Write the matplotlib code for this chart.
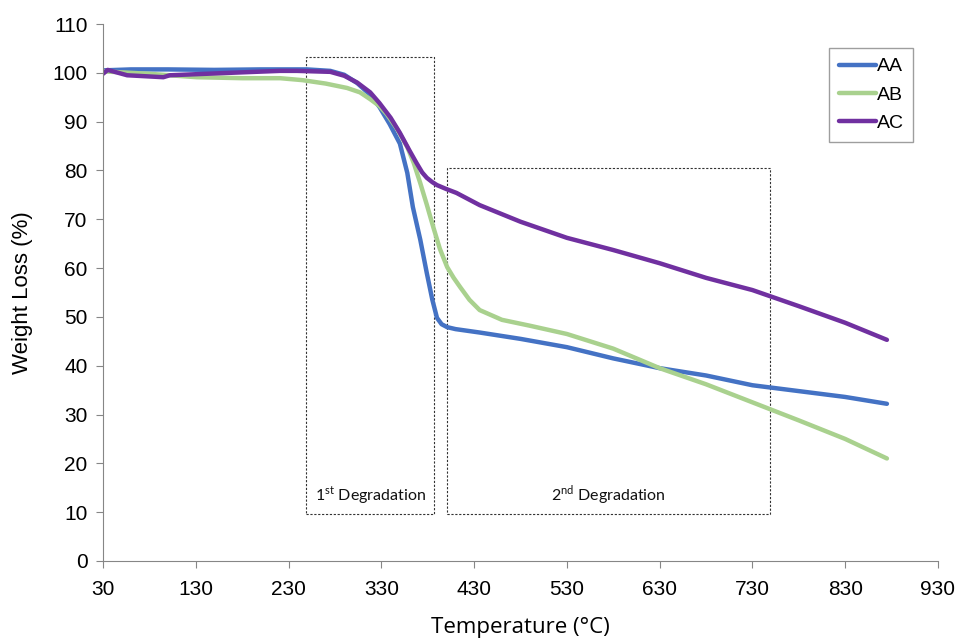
import matplotlib
matplotlib.use("Agg")
import matplotlib.pyplot as plt
import matplotlib.patches as patches

# ---> TGA data
temp_aa = [30, 60, 100, 150, 200, 250, 275, 290, 304, 318, 328, 339, 350, 358, 364, 372, 379, 385, 390, 395, 401, 410, 436, 480, 530, 580, 630, 680, 730, 780, 830, 875]
wl_aa = [100.5, 100.7, 100.7, 100.6, 100.7, 100.7, 100.4, 99.6, 97.9, 95.5, 93, 89.5, 85.5, 79.5, 72.5, 65.8, 59, 53.5, 49.8, 48.5, 47.9, 47.5, 46.8, 45.5, 43.8, 41.5, 39.5, 38, 36, 34.8, 33.6, 32.2]

temp_ab = [30, 80, 131, 180, 221, 245, 270, 293, 307, 318, 328, 336, 347, 358, 365, 372, 379, 386, 393, 401, 408, 415, 425, 436, 460, 490, 530, 580, 630, 680, 730, 780, 830, 875]
wl_ab = [100.3, 99.8, 99.1, 98.9, 98.9, 98.5, 97.8, 96.9, 96, 94.6, 93.2, 91.5, 88.5, 84.8, 81.5, 77.4, 73, 68.4, 64, 60.2, 58, 56.1, 53.5, 51.4, 49.4, 48.2, 46.5, 43.5, 39.5, 36.2, 32.5, 28.8, 25, 21]

temp_ac = [30, 35, 56, 95, 102, 167, 221, 239, 275, 290, 304, 318, 328, 340, 350, 360, 368, 374, 379, 385, 390, 400, 411, 436, 480, 530, 580, 630, 680, 730, 780, 830, 875]
wl_ac = [99.8, 100.6, 99.5, 99.1, 99.5, 100, 100.4, 100.4, 100.2, 99.4, 98, 96, 93.8, 90.8, 87.7, 84.2, 81.5, 79.6, 78.5, 77.6, 77, 76.2, 75.4, 72.9, 69.5, 66.2, 63.7, 61, 58, 55.5, 52.2, 48.8, 45.3]

series = [("AA", temp_aa, wl_aa, "#4472C4"),
          ("AB", temp_ab, wl_ab, "#A9D18E"),
          ("AC", temp_ac, wl_ac, "#7030A0")]

# degradation regions: (x0, x1, y0, y1, label)
regions = [(249, 387, 9.6, 103.2, r"1$^{\mathregular{st}}$ Degradation"),
           (401, 749, 9.6, 80.5, r"2$^{\mathregular{nd}}$ Degradation")]

fig = plt.figure(figsize=(9.61, 6.42), dpi=100)
ax = fig.add_axes([0.1072, 0.1262, 0.8688, 0.8364])

for name, t, w, c in series:
    ax.plot(t, w, color=c, linewidth=3.2, label=name,
            solid_capstyle="round", solid_joinstyle="round")

for x0, x1, y0, y1, lab in regions:
    ax.add_patch(patches.Rectangle((x0, y0), x1 - x0, y1 - y0, fill=False,
                                   edgecolor="#333333", linewidth=0.8, linestyle=(0, (2, 1.5))))
    ax.text((x0 + x1) / 2, y0 + 3.8, lab, ha="center", va="center",
            fontsize=11.5, family="Lato", color="#111111")

ax.set_xlim(30, 930)
ax.set_ylim(0, 110)
ax.set_xticks(range(30, 931, 100))
ax.set_yticks(range(0, 111, 10))
for s in ["top", "right"]:
    ax.spines[s].set_visible(False)
for s in ["left", "bottom"]:
    ax.spines[s].set_color("#868686")
ax.tick_params(direction="out", length=5, color="#868686", labelsize=15, pad=6)
for lbl in ax.get_xticklabels() + ax.get_yticklabels():
    lbl.set_family("Liberation Sans")
ax.tick_params(axis="x", pad=9)

ax.set_xlabel("Temperature (°C)", fontsize=16, family="Open Sans", labelpad=13)
ax.set_ylabel("Weight Loss (%)", fontsize=16, family="Liberation Sans", labelpad=14)

leg = ax.legend(loc="upper left", bbox_to_anchor=(829 / 961, 1 - 48 / 642),
                bbox_transform=fig.transFigure, frameon=True, fancybox=False,
                prop={"family": "Liberation Sans", "size": 14}, handlelength=1.9,
                handletextpad=0.05, labelspacing=0.55, borderpad=0.5, borderaxespad=0)
leg.get_frame().set_edgecolor("#868686")
leg.get_frame().set_linewidth(1.0)

plt.savefig("out.png", dpi=100)
